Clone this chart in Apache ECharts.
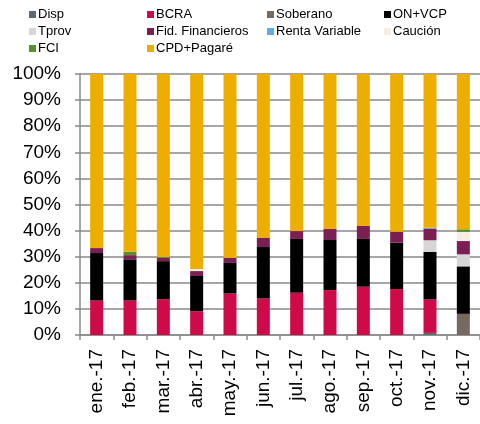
<!DOCTYPE html>
<html>
<head>
<meta charset="utf-8">
<script src="https://cdn.jsdelivr.net/npm/echarts@6/dist/echarts.min.js"></script>
<style>
  html, body { margin: 0; padding: 0; background: #fff; }
  #chart { width: 480px; height: 424px; }
</style>
</head>
<body>
<div id="chart"></div>
<script>
// Composición mensual, 2017 (% del total)
const months = ['ene.-17', 'feb.-17', 'mar.-17', 'abr.-17', 'may.-17', 'jun.-17',
  'jul.-17', 'ago.-17', 'sep.-17', 'oct.-17', 'nov.-17', 'dic.-17'];
const yTicks = [0, 10, 20, 30, 40, 50, 60, 70, 80, 90, 100];

const disp = [0, 0, 0, 0, 0, 0, 0, 0, 0, 0, 0.8, 0];
const bcra = [13.2, 13.2, 13.7, 9.1, 15.9, 14.0, 16.2, 17.2, 18.5, 17.6, 12.8, 0];
const soberano = [0, 0, 0, 0, 0, 0, 0, 0, 0, 0, 0, 8.1];
const onVcp = [18.2, 15.8, 14.6, 13.5, 11.7, 19.7, 20.6, 19.2, 18.3, 17.8, 18.2, 18.2];
const tprov = [0, 0, 0, 0, 0, 0, 0, 0, 0, 0, 4.5, 4.6];
const fid = [1.9, 1.6, 1.3, 1.9, 1.9, 3.6, 3.0, 4.2, 5.0, 4.2, 4.5, 5.1];
const rentaVar = [0, 0, 0, 0, 0, 0, 0, 0, 0, 0, 0.3, 0];
const caucion = [0, 0, 0, 0.8, 0, 0, 0, 0, 0, 0, 0, 3.5];
const fci = [0, 1.3, 0.3, 0, 0, 0, 0, 0, 0, 0, 0, 1.0];
const cpd = [66.7, 68.1, 70.1, 74.7, 70.5, 62.7, 60.2, 59.4, 58.2, 60.4, 58.9, 59.5];

const names = ['Disp', 'BCRA', 'Soberano', 'ON+VCP', 'Tprov', 'Fid. Financieros',
  'Renta Variable', 'Caución', 'FCI', 'CPD+Pagaré'];
const values = [disp, bcra, soberano, onVcp, tprov, fid, rentaVar, caucion, fci, cpd];
const colors = ['#5e6a72', '#cf0a48', '#76695f', '#000000', '#d6d6d6', '#7b1f52',
  '#5daee8', '#f4ede0', '#5a8f29', '#edae00'];

const font = '"Liberation Sans", Arial, sans-serif';

// legend laid out as 4 columns
const legendCols = [
  ['Disp', 'Tprov', 'FCI'],
  ['BCRA', 'Fid. Financieros', 'CPD+Pagaré'],
  ['Soberano', 'Renta Variable'],
  ['ON+VCP', 'Caución']
];
const legendLeft = [29, 147, 267, 384];

const chart = echarts.init(document.getElementById('chart'));
chart.setOption({
  animation: false,
  color: colors,
  legend: legendCols.map((col, i) => ({
    data: col,
    orient: 'vertical',
    left: legendLeft[i],
    top: 6,
    itemWidth: 7,
    itemHeight: 7,
    itemGap: 0,
    icon: 'rect',
    padding: 0,
    textStyle: {
      fontFamily: font,
      fontSize: 13,
      color: '#000',
      lineHeight: 17,
      padding: [0, 0, 0, -3]
    }
  })),
  grid: { left: 80, right: 0, top: 74, bottom: 89, containLabel: false },
  xAxis: {
    type: 'category',
    data: months,
    axisLine: { lineStyle: { color: '#8a8a8a', width: 1.5 } },
    axisTick: { show: true, length: 5, lineStyle: { color: '#8a8a8a', width: 1.5 } },
    axisLabel: {
      rotate: 90,
      margin: 14,
      color: '#000',
      fontFamily: font,
      fontSize: 19
    }
  },
  yAxis: {
    type: 'value',
    min: 0,
    max: 100,
    interval: 10,
    axisLine: { show: true, lineStyle: { color: '#8a8a8a', width: 1.5 } },
    axisTick: { show: true, length: 5, lineStyle: { color: '#8a8a8a', width: 1.5 } },
    splitLine: { lineStyle: { color: '#8a8a8a', width: 1.5 } },
    axisLabel: {
      margin: 19,
      color: '#000',
      fontFamily: font,
      fontSize: 19,
      formatter: v => (yTicks.indexOf(v) >= 0 ? v + '%' : '')
    }
  },
  series: names.map((name, i) => ({
    name: name,
    type: 'bar',
    stack: 'total',
    barWidth: 13,
    data: values[i]
  }))
});
</script>
</body>
</html>
